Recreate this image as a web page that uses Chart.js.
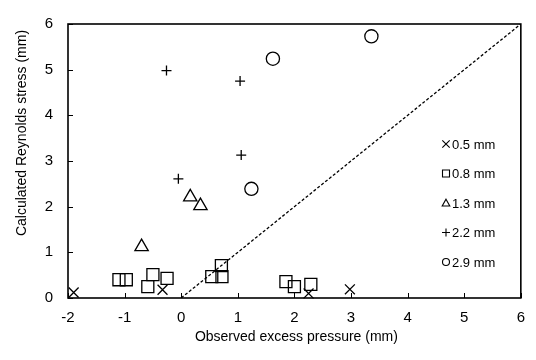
<!DOCTYPE html>
<html>
<head>
<meta charset="utf-8">
<script src="https://cdn.jsdelivr.net/npm/chart.js@4/dist/chart.umd.min.js"></script>
<style>
  html, body { margin: 0; padding: 0; background: #fff; }
  #chart { display: block; }
</style>
</head>
<body>
<canvas id="chart" width="536" height="360"></canvas>
<script>
// values
const seriesNames = ["0.5 mm", "0.8 mm", "1.3 mm", "2.2 mm", "2.9 mm"];

const x05 = [-1.9, -0.33, 2.25, 2.98];
const y05 = [0.12, 0.18, 0.1, 0.19];

const x08 = [-1.1, -0.97, -0.59, -0.5, -0.25, 0.54, 0.72, 0.71, 1.85, 2.0, 2.29];
const y08 = [0.4, 0.4, 0.25, 0.51, 0.43, 0.47, 0.47, 0.71, 0.36, 0.25, 0.3];

const x13 = [-0.7, 0.16, 0.34];
const y13 = [1.12, 2.21, 2.02];

const x22 = [-0.26, 1.04, 1.06, -0.05];
const y22 = [4.98, 4.75, 3.13, 2.61];

const x29 = [3.36, 1.62, 1.24];
const y29 = [5.73, 5.24, 2.39];

const xTicks = [-2, -1, 0, 1, 2, 3, 4, 5, 6];
const yTicks = [0, 1, 2, 3, 4, 5, 6];
const lineX = [0, 6];
const lineY = [0, 6];

const xTitle = "Observed excess pressure (mm)";
const yTitle = "Calculated Reynolds stress (mm)";

const FONT = "'Liberation Sans', Arial, sans-serif";

function pts(xs, ys) {
    return xs.map((x, i) => ({ x: x, y: ys[i] }));
}

function markerSet(label, xs, ys, style, radius) {
    return {
        type: "scatter",
        label: label,
        data: pts(xs, ys),
        pointStyle: style,
        pointRadius: radius,
        pointHoverRadius: radius,
        pointBorderColor: "#000",
        pointBackgroundColor: "rgba(0,0,0,0)",
        pointBorderWidth: 1.3,
        clip: false,
    };
}

// small marker drawer for the legend
function drawMarker(ctx, style, x, y, r) {
    ctx.beginPath();
    if (style === "crossRot") {
        ctx.moveTo(x - r, y - r); ctx.lineTo(x + r, y + r);
        ctx.moveTo(x - r, y + r); ctx.lineTo(x + r, y - r);
    } else if (style === "cross") {
        ctx.moveTo(x - r, y); ctx.lineTo(x + r, y);
        ctx.moveTo(x, y - r); ctx.lineTo(x, y + r);
    } else if (style === "rect") {
        ctx.rect(x - r, y - r, 2 * r, 2 * r);
    } else if (style === "triangle") {
        ctx.moveTo(x, y - r);
        ctx.lineTo(x + r, y + r * 0.8);
        ctx.lineTo(x - r, y + r * 0.8);
        ctx.closePath();
    } else if (style === "circle") {
        ctx.arc(x, y, r, 0, Math.PI * 2);
    }
    ctx.stroke();
}

const legendStyles = ["crossRot", "rect", "triangle", "cross", "circle"];
const legendSizes = [3.7, 3.5, 3.8, 4, 3.5];

const framePlugin = {
    id: "frame",
    afterDraw(chart) {
        const ctx = chart.ctx;
        const a = chart.chartArea;
        const xs = chart.scales.x;
        const ys = chart.scales.y;
        ctx.save();
        ctx.strokeStyle = "#000";

        // plot box
        ctx.lineWidth = 1.6;
        ctx.strokeRect(a.left, a.top, a.right - a.left, a.bottom - a.top);

        // inside tick marks
        ctx.lineWidth = 1;
        ctx.beginPath();
        xTicks.forEach((v) => {
            const px = Math.round(xs.getPixelForValue(v)) + 0.5;
            ctx.moveTo(px, a.bottom);
            ctx.lineTo(px, a.bottom - 5);
        });
        yTicks.forEach((v) => {
            const py = Math.round(ys.getPixelForValue(v)) + 0.5;
            ctx.moveTo(a.left, py);
            ctx.lineTo(a.left + 5, py);
        });
        ctx.stroke();

        // axis titles
        ctx.fillStyle = "#000";
        ctx.font = "14px " + FONT;
        ctx.textAlign = "center";
        ctx.textBaseline = "middle";
        ctx.fillText(xTitle, (a.left + a.right) / 2 + 2, 337);
        ctx.save();
        ctx.translate(22, 133);
        ctx.rotate(-Math.PI / 2);
        ctx.fillText(yTitle, 0, 0);
        ctx.restore();

        // legend
        ctx.font = "13px " + FONT;
        ctx.textAlign = "left";
        ctx.lineWidth = 1.1;
        seriesNames.forEach((name, i) => {
            const y = 144 + i * 29.5;
            drawMarker(ctx, legendStyles[i], 446, y, legendSizes[i]);
            ctx.fillText(name, 452, y + 1);
        });
        ctx.restore();
    },
};

new Chart(document.getElementById("chart"), {
    data: {
        datasets: [
            {
                type: "line",
                label: "1:1",
                data: pts(lineX, lineY),
                borderColor: "#000",
                borderWidth: 1.3,
                borderDash: [3, 2],
                pointRadius: 0,
                fill: false,
            },
            markerSet(seriesNames[0], x05, y05, "crossRot", 7),
            markerSet(seriesNames[1], x08, y08, "rect", 8.5),
            markerSet(seriesNames[2], x13, y13, "triangle", 7.7),
            markerSet(seriesNames[3], x22, y22, "cross", 5),
            markerSet(seriesNames[4], x29, y29, "circle", 6.6),
        ],
    },
    options: {
        responsive: false,
        animation: false,
        layout: { padding: { top: 13, right: 14, left: 0, bottom: 0 } },
        plugins: {
            legend: { display: false },
            tooltip: { enabled: false },
        },
        scales: {
            x: {
                type: "linear",
                min: -2,
                max: 6,
                afterBuildTicks: (s) => { s.ticks = xTicks.map((v) => ({ value: v })); },
                afterFit: (s) => { s.height = 62; },
                grid: { display: false, drawTicks: false },
                border: { display: false },
                ticks: {
                    color: "#000",
                    font: { family: FONT, size: 15 },
                    padding: 11,
                    maxRotation: 0,
                },
            },
            y: {
                type: "linear",
                min: 0,
                max: 6,
                afterBuildTicks: (s) => { s.ticks = yTicks.map((v) => ({ value: v })); },
                afterFit: (s) => { s.width = 68; },
                grid: { display: false, drawTicks: false },
                border: { display: false },
                ticks: {
                    color: "#000",
                    font: { family: FONT, size: 15 },
                    padding: 15,
                },
            },
        },
    },
    plugins: [framePlugin],
});
</script>
</body>
</html>
